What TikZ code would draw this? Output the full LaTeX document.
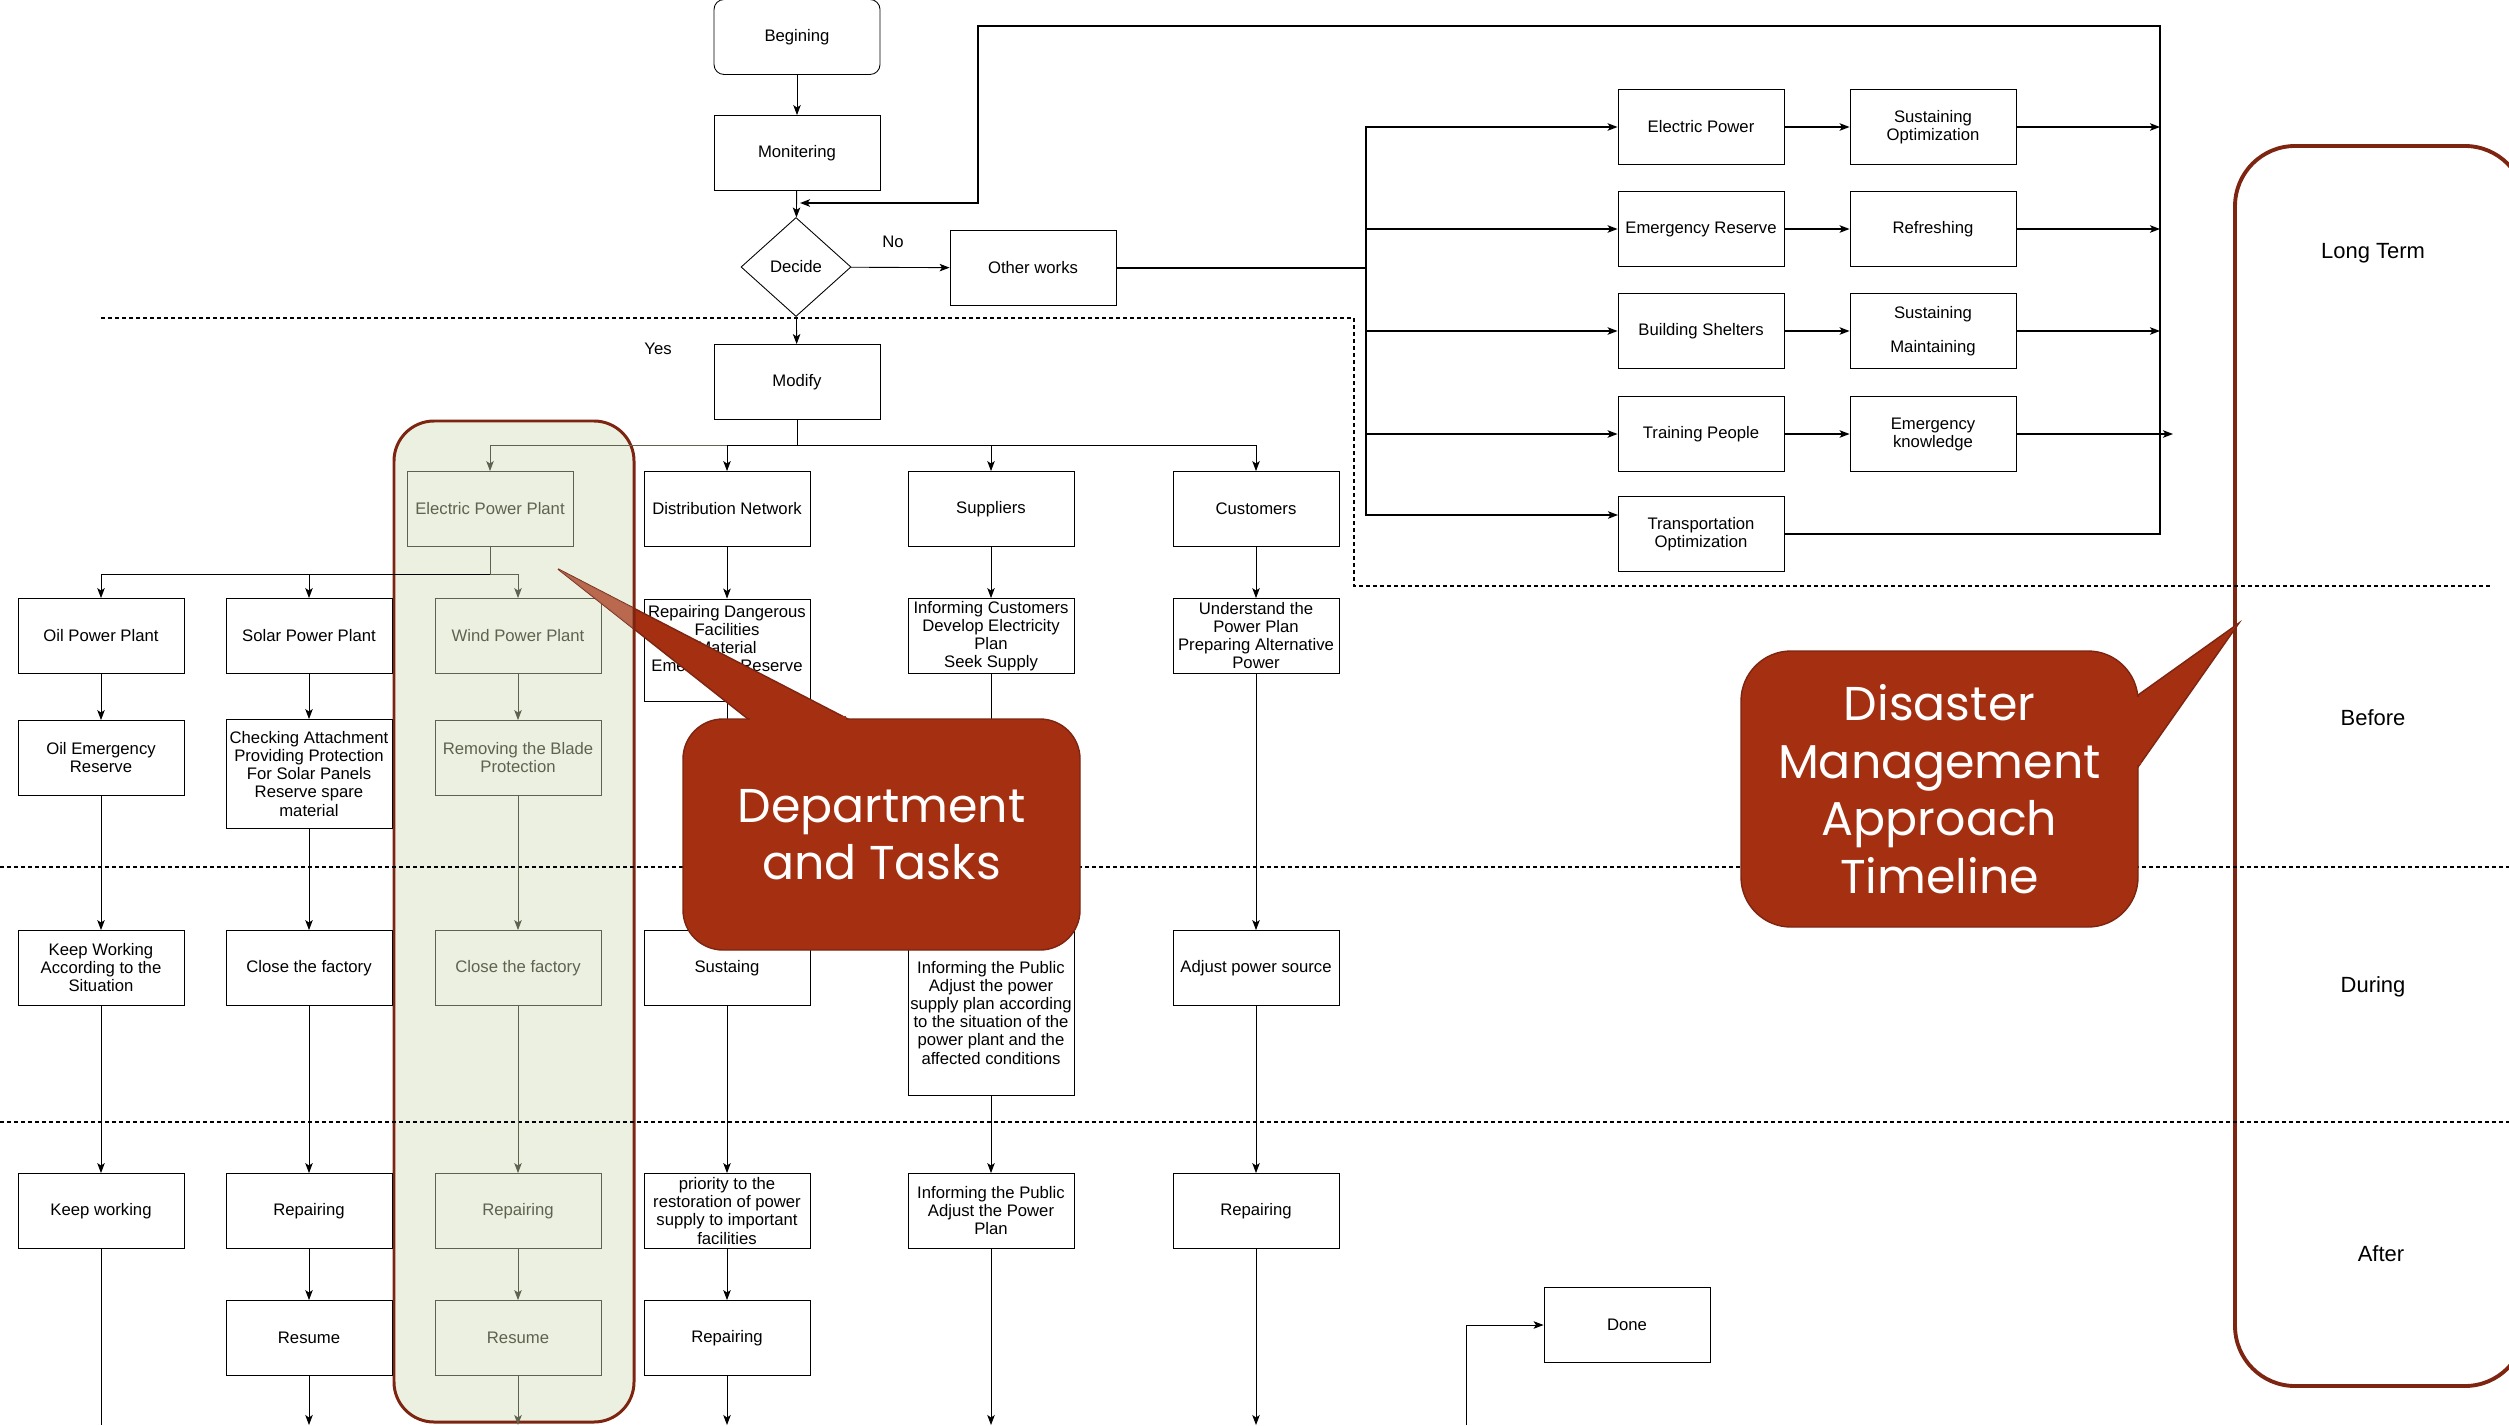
\documentclass[tikz,border=0pt]{standalone}
\usepackage{fontspec}
\setmainfont{Liberation Sans}
\newfontfamily\calloutfont{Poppins}
\usetikzlibrary{arrows.meta,shapes.geometric}
\definecolor{rust}{RGB}{165,47,17}
\definecolor{rustdark}{RGB}{125,37,17}
\definecolor{sage}{RGB}{236,240,224}
\definecolor{sagetext}{RGB}{94,99,80}
\begin{document}
\begin{tikzpicture}[x=0.2mm,y=-0.2mm,
  box/.style={draw,line width=0.5pt,minimum width=33.2mm,minimum height=15mm,inner sep=0.5pt,align=center,font=\fontsize{9.5}{10.25}\selectfont},
  sagebox/.style={box,draw=sagetext,text=sagetext},
  arr/.style={-{Stealth[length=2mm,width=1.5mm,inset=0.5mm]},line width=0.5pt},
  sagearr/.style={arr,draw=sagetext},
  wide/.style={arr,line width=0.9pt},
  period/.style={font=\fontsize{12.5}{14}\selectfont},
  phase/.style={dash pattern=on 0.8mm off 0.6mm,line width=0.6pt},
  bubble/.style={fill=rust,draw=rustdark,line width=0.8pt},
  bubbletext/.style={text=white,align=center,font=\calloutfont\fontsize{27}{32.7}\selectfont}]
\useasboundingbox (0,0) rectangle (2509,1425);

\draw[rustdark,fill=sage,line width=1.7pt,rounded corners=8mm] (394,421) rectangle (634,1422);
\draw[rustdark,line width=2.2pt,rounded corners=12mm] (2235,146) rectangle (2525,1386);

\draw[phase] (101,318) -- (1354,318) -- (1354,586) -- (2493,586);
\draw[phase] (0,867) -- (2509,867);
\draw[phase] (0,1122) -- (2509,1122);

\node[period] (longterm) at (2373,253) {Long Term};
\node[period] (before) at (2373,718) {Before};
\node[period] (during) at (2373,987) {During};
\node[period] (after) at (2381,1254) {After};

\node[box,rounded corners=2mm] (begin) at (797,37) {Begining};
\node[box] (monitor) at (797,153) {Monitering};
\node[box,diamond,minimum width=22mm,minimum height=19.8mm,inner sep=0pt] (decide) at (796,267) {Decide};
\node[box] (other) at (1033,268) {Other works};
\node[box] (modify) at (797,382) {Modify};
\node[font=\fontsize{9.5}{10.25}\selectfont] (no) at (893,242) {No};
\node[font=\fontsize{9.5}{10.25}\selectfont] (yes) at (658,349) {Yes};

\node[sagebox] (epp) at (490,509) {Electric Power Plant};
\node[box] (dist) at (727,509) {Distribution Network};
\node[box] (supp) at (991,509) {Suppliers};
\node[box] (cust) at (1256,509) {Customers};

\node[box] (oil) at (101,636) {Oil Power Plant};
\node[box] (solar) at (309,636) {Solar Power Plant};
\node[sagebox] (wind) at (518,636) {Wind Power Plant};
\node[box,minimum height=20.4mm,text depth=13pt] (distb) at (727,650) {Repairing Dangerous\\Facilities\\Material\\Emergency Reserve};
\node[box] (suppb) at (991,636) {Informing Customers\\Develop Electricity\\Plan\\Seek Supply};
\node[box] (custb) at (1256,636) {Understand the\\Power Plan\\Preparing Alternative\\Power};

\node[box] (oilres) at (101,758) {Oil Emergency\\Reserve};
\node[box,minimum height=21.8mm] (check) at (309,774) {Checking Attachment\\Providing Protection\\For Solar Panels\\Reserve spare\\material};
\node[sagebox] (blade) at (518,758) {Removing the Blade\\Protection};

\node[box] (keepsit) at (101,968) {Keep Working\\According to the\\Situation};
\node[box] (closesolar) at (309,968) {Close the factory};
\node[sagebox] (closewind) at (518,968) {Close the factory};
\node[box] (sust) at (727,968) {Sustaing};
\node[box,minimum height=33mm] (public) at (991,1013) {Informing the Public\\Adjust the power\\supply plan according\\to the situation of the\\power plant and the\\affected conditions};
\node[box] (adjust) at (1256,968) {Adjust power source};

\node[box] (keepwork) at (101,1211) {Keep working};
\node[box] (repsolar) at (309,1211) {Repairing};
\node[sagebox] (repwind) at (518,1211) {Repairing};
\node[box] (priority) at (727,1211) {priority to the\\restoration of power\\supply to important\\facilities};
\node[box] (plan) at (991,1211) {Informing the Public\\Adjust the Power\\Plan};
\node[box] (repcust) at (1256,1211) {Repairing};

\node[box] (ressolar) at (309,1338) {Resume};
\node[sagebox] (reswind) at (518,1338) {Resume};
\node[box] (repdist) at (727,1338) {Repairing};
\node[box] (done) at (1627,1325) {Done};

\node[box] (elec) at (1701,127) {Electric Power};
\node[box] (reserve) at (1701,229) {Emergency Reserve};
\node[box] (shelter) at (1701,331) {Building Shelters};
\node[box] (train) at (1701,434) {Training People};
\node[box] (trans) at (1701,534) {Transportation\\Optimization};
\node[box] (sustopt) at (1933,127) {Sustaining\\Optimization};
\node[box] (refresh) at (1933,229) {Refreshing};
\node[box] (sustmain) at (1933,331) {Sustaining\\[9pt]Maintaining};
\node[box] (knowledge) at (1933,434) {Emergency\\knowledge};

\coordinate (bus) at (797,445);
\coordinate (plantbus) at (490,574);
\coordinate (hub) at (1366,268);
\coordinate (tin) at (1618,515);
\coordinate (rail) at (2160,26);
\coordinate (over) at (2173,434);
\coordinate (loop) at (978,203);
\coordinate (back) at (800,203);
\coordinate (doneleg) at (1466,1425);

\draw[arr] (begin) -- (monitor);
\draw[arr] (monitor) -- (decide);
\draw[arr] (decide) -- (other);
\draw[arr] (decide) -- (modify);
\draw[sagearr] (modify.south) -- (bus) -| (epp.north);
\draw[arr] (modify.south) -- (bus) -| (dist.north);
\draw[arr] (modify.south) -- (bus) -| (supp.north);
\draw[arr] (modify.south) -- (bus) -| (cust.north);

\draw[arr] (epp.south) -- (plantbus) -| (oil.north);
\draw[arr] (epp.south) -- (plantbus) -| (solar.north);
\draw[sagearr] (epp.south) -- (plantbus) -| (wind.north);

\draw[arr] (oil) -- (oilres);
\draw[arr] (oilres) -- (keepsit);
\draw[arr] (keepsit) -- (keepwork);
\draw (keepwork.south) -- (keepwork.south |- doneleg);
\draw[arr] (solar) -- (check);
\draw[arr] (check) -- (closesolar);
\draw[arr] (closesolar) -- (repsolar);
\draw[arr] (repsolar) -- (ressolar);
\draw[arr] (ressolar.south) -- (ressolar.south |- doneleg);
\draw[sagearr] (wind) -- (blade);
\draw[sagearr] (blade) -- (closewind);
\draw[sagearr] (closewind) -- (repwind);
\draw[sagearr] (repwind) -- (reswind);
\draw[sagearr] (reswind.south) -- (reswind.south |- doneleg);
\draw[arr] (dist) -- (distb);
\draw[arr] (distb) -- (sust);
\draw[arr] (sust) -- (priority);
\draw[arr] (priority) -- (repdist);
\draw[arr] (repdist.south) -- (repdist.south |- doneleg);
\draw[arr] (supp) -- (suppb);
\draw[arr] (suppb) -- (public);
\draw[arr] (public) -- (plan);
\draw[arr] (plan.south) -- (plan.south |- doneleg);
\draw[arr] (cust) -- (custb);
\draw[arr] (custb) -- (adjust);
\draw[arr] (adjust) -- (repcust);
\draw[arr] (repcust.south) -- (repcust.south |- doneleg);
\draw[arr] (doneleg) |- (done.west);

\draw[wide] (other.east) -- (hub) |- (elec.west);
\draw[wide] (other.east) -- (hub) |- (reserve.west);
\draw[wide] (other.east) -- (hub) |- (shelter.west);
\draw[wide] (other.east) -- (hub) |- (train.west);
\draw[wide] (other.east) -- (hub) |- (tin);
\draw[wide] (elec) -- (sustopt);
\draw[wide] (reserve) -- (refresh);
\draw[wide] (shelter) -- (sustmain);
\draw[wide] (train) -- (knowledge);
\draw[wide] (sustopt.east) -- (sustopt.east -| rail);
\draw[wide] (refresh.east) -- (refresh.east -| rail);
\draw[wide] (sustmain.east) -- (sustmain.east -| rail);
\draw[wide] (knowledge.east) -- (knowledge.east -| over);
\draw[wide] (trans.east) -| (rail) -| (loop) -- (back);

\draw[bubble] (748,719) -- (558,569) -- (848,719) -- cycle;
\node[bubble,bubbletext,rounded corners=8mm,minimum width=79.4mm,minimum height=46.2mm] (dept) at (881.5,834.5) {Department\\and Tasks};
\fill[rust] (750,716) rectangle (846,723);
\begin{scope}
  \clip (748,719) -- (558,569) -- (848,719) -- cycle;
  \draw[rustdark,fill=sage,fill opacity=0.3,line width=1.7pt,rounded corners=8mm] (394,421) rectangle (634,1422);
\end{scope}

\draw[bubble] (2138,695) -- (2239,623) -- (2138,767) -- cycle;
\node[bubble,bubbletext,rounded corners=10mm,minimum width=79.4mm,minimum height=55.2mm] (approach) at (1939.5,789) {Disaster\\Management\\Approach\\Timeline};
\fill[rust] (2134,697) rectangle (2141,765);
\end{tikzpicture}
\end{document}
